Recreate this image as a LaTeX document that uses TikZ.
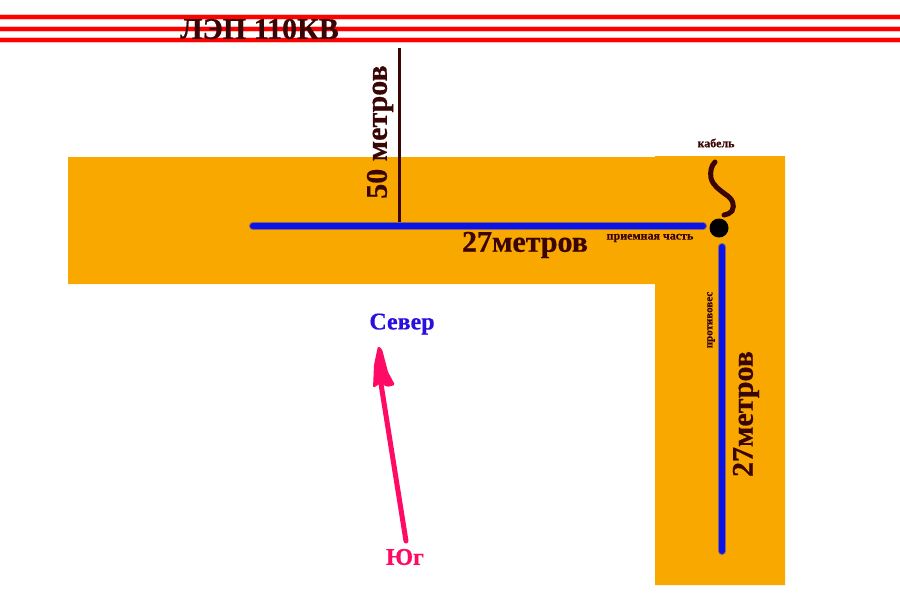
\documentclass[tikz,border=0pt]{standalone}
\usepackage{fontspec}
\setmainfont{Liberation Serif}[BoldFeatures={FakeBold=0.5}]
\definecolor{ground}{HTML}{F9A800}
\definecolor{wire}{HTML}{FF0000}
\definecolor{halo}{HTML}{FFC0C0}
\definecolor{bluel}{HTML}{0A14E6}
\definecolor{darkb}{HTML}{3A0505}
\definecolor{north}{HTML}{2A10E0}
\definecolor{pinkc}{HTML}{FF0A64}
\tikzset{
  wirehalo/.style={draw=halo,line width=6.5pt},
  wirecore/.style={draw=wire,line width=3.2pt},
  rodhalo/.style={draw=bluel,opacity=.45,line width=8pt,line cap=round},
  rod/.style={draw=bluel,line width=6pt,line cap=round},
  lbl/.style={inner sep=0pt,font=\bfseries,text=darkb},
  big/.style={lbl,font=\fontsize{30}{30}\selectfont\bfseries},
  small/.style={lbl,font=\fontsize{12}{12}\selectfont\bfseries}
}
\begin{document}
\begin{tikzpicture}[x=1pt,y=-1pt]
\useasboundingbox (0,0) rectangle (900,600);
\fill[white] (0,0) rectangle (900,600);
% ground
\fill[ground] (68,157) -- (655,157) -- (655,156) -- (785,156) -- (785,585) -- (655,585) -- (655,284) -- (68,284) -- cycle;
% power line
\foreach \yy in {17,29,40}{
  \draw[wirehalo] (0,\yy) -- (900,\yy);
  \draw[wirecore] (0,\yy) -- (900,\yy);
}
\node[big,anchor=west] (lep) at (180,29) {ЛЭП 110КВ};
% distance line
\coordinate (d1) at (399.5,48);
\coordinate (d2) at (399.5,222);
\draw[draw=darkb,line width=3pt] (d1) -- (d2);
\node[big,rotate=90] (d50) at (380,132) {50 метров};
% rods
\node[circle,fill=black,inner sep=0pt,minimum size=19pt] (pt) at (719,228) {};
\coordinate (r1) at (253,226);
\coordinate (r2) at (703,226);
\coordinate (r3) at (722,247);
\coordinate (r4) at (722,551);
\draw[rodhalo] (r1) -- (r2);
\draw[rodhalo] (r3) -- (r4);
\draw[rod] (r1) -- (r2);
\draw[rod] (r3) -- (r4);
% cable
\coordinate (c1) at (715,162);
\draw[draw=darkb,line width=5pt,line cap=round] (c1) .. controls (711,166) and (710,172) .. (711,178)
  .. controls (713,186) and (720,190) .. (725,194)
  .. controls (733,199) and (735,205) .. (732,211)
  .. controls (730,214) and (727,214) .. (724,215);
% labels
\node[big] (l27a) at (525,245) {27метров};
\node[big,rotate=90] (l27b) at (746,414) {27метров};
\node[small] (cab) at (716,143) {кабель};
\node[small] (prm) at (650,238) {приемная часть};
\node[small,font=\fontsize{11}{11}\selectfont\bfseries,rotate=90] (prt) at (711,320) {противовес};
\node[lbl,text=north,font=\fontsize{24}{24}\selectfont\bfseries] (sev) at (402,324) {Север};
\node[lbl,text=pinkc,font=\fontsize{24}{24}\selectfont\bfseries] (yug) at (405,557) {Юг};
% arrow
\coordinate (a1) at (406,541);
\coordinate (a2) at (381,384);
\draw[draw=pinkc,line width=5pt,line cap=round] (a1) -- (a2);
\fill[pinkc,rounded corners=1.5pt] (378,346) -- (382,349) -- (388,372) -- (395,385) -- (387,387) -- (381,383) -- (373,388) -- (374,365) -- cycle;
\end{tikzpicture}
\end{document}
